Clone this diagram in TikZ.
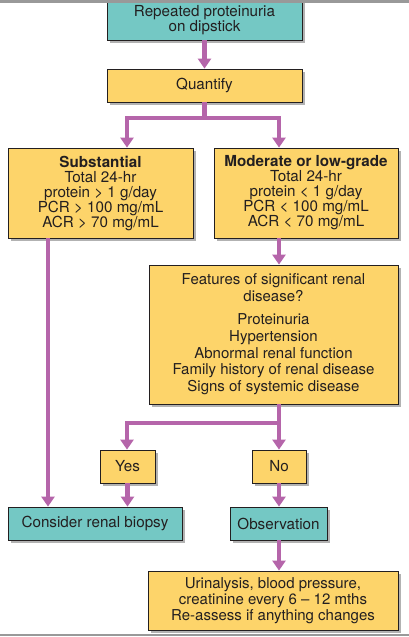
\documentclass[tikz,border=0pt]{standalone}
\usepackage{fontspec}
\setmainfont{TeX Gyre Heros}
\usepackage{xcolor}
\definecolor{boxteal}{RGB}{116, 200, 196}
\definecolor{boxyellow}{RGB}{253, 212, 106}
\definecolor{arrowpurple}{RGB}{181, 101, 170}
\definecolor{inkdark}{RGB}{35, 31, 32}
\usetikzlibrary{arrows.meta, shadows}

\begin{document}
\begin{tikzpicture}[x=1pt, y=-1pt,
	box/.style={draw=inkdark, line width=0.8pt, text=inkdark, align=center, inner sep=0pt, font=\fontsize{15.2}{15}\selectfont, drop shadow={shadow xshift=3pt, shadow yshift=-3pt, opacity=0.3, fill=black}},
	tbox/.style={box, fill=boxteal},
	ybox/.style={box, fill=boxyellow},
	flow/.style={arrowpurple, line width=4.5pt, -{Triangle[width=13pt, length=10pt]}}]
	\useasboundingbox (0,0) rectangle (409,637);
	\node[tbox, minimum width=195pt, minimum height=40pt] (rep) at (204.5,20) {Repeated proteinuria\\on dipstick};
	\node[ybox, minimum width=195pt, minimum height=33pt] (quant) at (204.5,85.5) {Quantify};
	\node[ybox, minimum width=185pt, minimum height=90pt] (subst) at (100.5,193) {\textbf{Substantial}\\Total 24-hr\\protein > 1 g/day\\PCR > 100 mg/mL\\ACR > 70 mg/mL};
	\node[ybox, minimum width=184pt, minimum height=90pt] (moder) at (306,193) {\textbf{Moderate or low-grade}\\Total 24-hr\\protein < 1 g/day\\PCR < 100 mg/mL\\ACR < 70 mg/mL};
	\node[ybox, minimum width=249pt, minimum height=139pt, font=\fontsize{15}{16.8}\selectfont] (feat) at (273.5,334.5) {Features of significant renal\\disease?\\[6pt]Proteinuria\\Hypertension\\Abnormal renal function\\Family history of renal disease\\Signs of systemic disease};
	\node[ybox, minimum width=55pt, minimum height=33pt] (yes) at (127.5,466.5) {Yes};
	\node[ybox, minimum width=54pt, minimum height=33pt] (no) at (279,466.5) {No};
	\node[tbox, minimum width=174pt, minimum height=33pt] (biopsy) at (95,523.5) {Consider renal biopsy};
	\node[tbox, minimum width=97pt, minimum height=33pt] (obs) at (278.5,523.5) {Observation};
	\node[ybox, minimum width=250pt, minimum height=59pt, font=\fontsize{15}{16}\selectfont] (follow) at (273,600.5) {Urinalysis, blood pressure,\\creatinine every 6 -- 12 mths\\Re-assess if anything changes};
	\coordinate (qL) at (127,118);
	\coordinate (qR) at (279,118);
	\coordinate (fL) at (127,423);
	\coordinate (fR) at (279,423);
	\coordinate (sL) at (48,0);
	\draw[flow] (rep.south) -- (quant.north);
	\draw[flow] (quant.south) |- (qL) -- (qL |- subst.north);
	\draw[flow] (quant.south) |- (qR) -- (qR |- moder.north);
	\draw[flow] (qR |- moder.south) -- (qR |- feat.north);
	\draw[flow] (fR |- feat.south) -- (fR) -- (fR |- no.north);
	\draw[flow] (fR |- feat.south) -- (fR) -- (fL) -- (fL |- yes.north);
	\draw[flow] (sL |- subst.south) -- (sL |- biopsy.north);
	\draw[flow] (yes.south) -- (yes.south |- biopsy.north);
	\draw[flow] (no.south) -- (no.south |- obs.north);
	\draw[flow] (fR |- obs.south) -- (fR |- follow.north);
	\fill[black!40] (0,0) rectangle (409,3);
	\draw[black!40, line width=1.5pt] (0,635) -- (409,635);
\end{tikzpicture}
\end{document}
